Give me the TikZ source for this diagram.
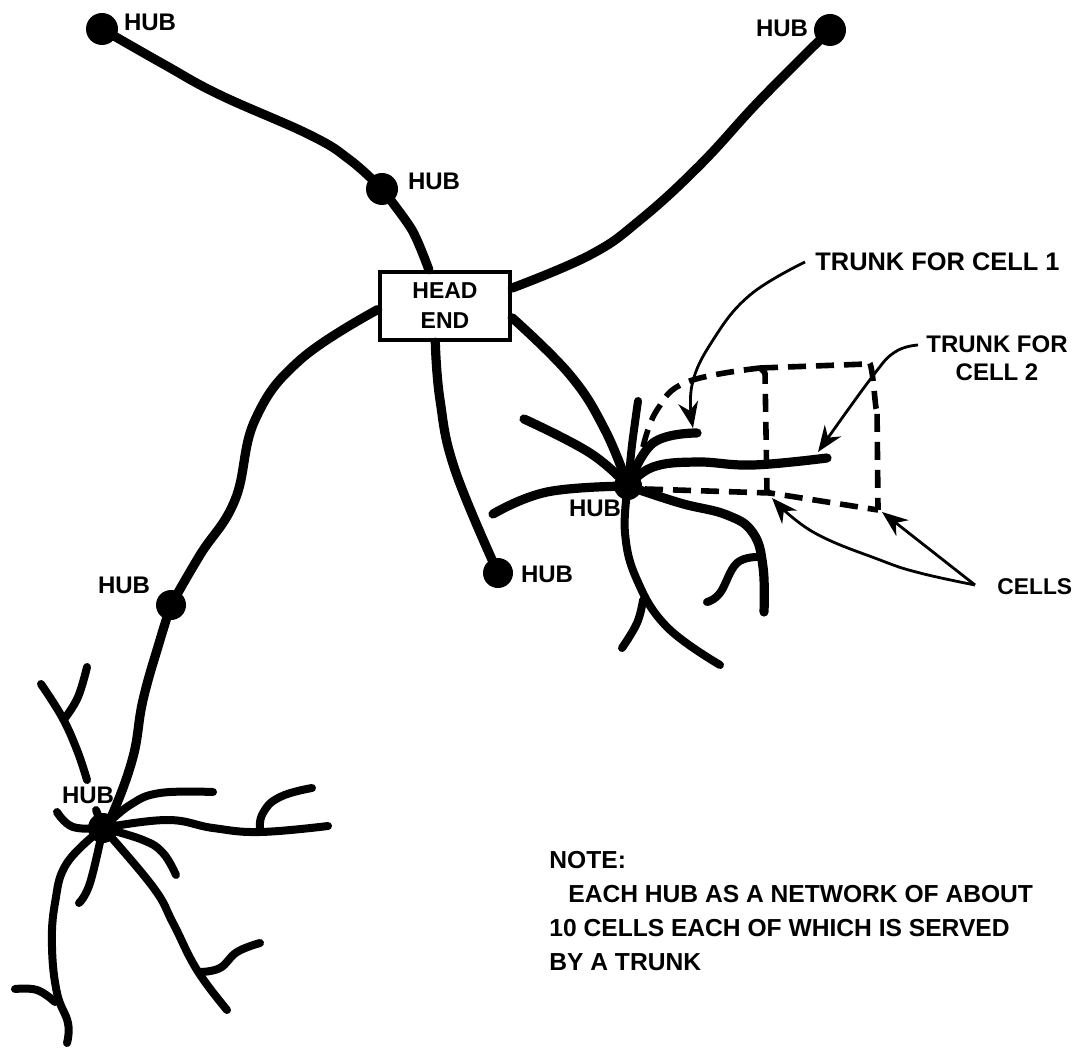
\documentclass[tikz,border=0pt]{standalone}
\usepackage{fontspec}
\setmainfont{Liberation Sans}
\usetikzlibrary{arrows.meta}
\tikzset{
    cable/.style={line width=4.6pt, line cap=round, line join=round},
    branch/.style={line width=4pt, line cap=round, line join=round},
    cell/.style={line width=2.8pt, dash pattern=on 9pt off 5pt, line join=round},
    pointer/.style={line width=1.4pt, -{Stealth[length=13pt,width=10pt]}},
    hubdot/.style={circle, fill=black, inner sep=0pt, minimum size=#1},
    tag/.style={font=\bfseries\fontsize{12}{14}\selectfont, inner sep=0pt}
}
\begin{document}
\begin{tikzpicture}[x=0.5pt, y=-0.5pt]
        \useasboundingbox (0,0) rectangle (1079,1047);

        % Hubs
        \foreach \name/\pos/\size in {hubA/{102,29}/16pt, hubB/{382,189}/16pt, hubC/{830,30}/16pt, hubD/{171,605}/15pt, hubE/{498,573}/15pt, hubF/{628,486}/14pt, hubG/{103,828}/15pt} {
            \node[hubdot=\size] (\name) at (\pos) {};
        }
        \node[draw, line width=2.2pt, fill=white, minimum width=65pt, minimum height=34pt, align=center, font=\bfseries\fontsize{11.5}{15}\selectfont, inner sep=0pt] (headend) at (445,306) {HEAD\\END};

        % Main cables
        \draw[cable] plot[smooth, tension=0.7] coordinates {(hubA.center) (165,65) (220,95) (310,135) (350,160) (hubB.center)};
        \draw[cable] plot[smooth] coordinates {(hubB.center) (412,230) (headend.114)};
        \draw[cable] plot[smooth, tension=0.7] coordinates {(hubC.center) (760,100) (700,165) (640,220) (590,255) (headend.15)};
        \draw[cable] plot[smooth, tension=0.7] coordinates {(headend.183) (300,360) (255,420) (235,500) (200,555) (hubD.center)};
        \draw[cable] plot[smooth, tension=0.7] coordinates {(hubD.center) (160,640) (143,700) (133,757) (113,813) (hubG.center)};
        \draw[cable] plot[smooth, tension=0.7] coordinates {(headend.255) (440,400) (455,470) (hubE.center)};
        \draw[cable] plot[smooth, tension=0.7] coordinates {(headend.-10) (570,375) (605,430) (hubF.center)};

        % Right network
        \draw[cable] plot[smooth, tension=0.7] coordinates {(524,419) (590,453) (hubF.center)};
        \draw[cable] plot[smooth, tension=0.7] coordinates {(493,514) (547,492) (hubF.center)};
        \draw[branch] plot[smooth] coordinates {(638,401) (632,445) (hubF.center)};
        \draw[cable] plot[smooth, tension=0.7] coordinates {(697,433) (653,443) (hubF.center)};
        \draw[cable] plot[smooth, tension=0.7] coordinates {(827,458) (753,465) (697,462) (653,467) (hubF.center)};
        \draw[cable] plot[smooth, tension=0.7] coordinates {(hubF.center) (680,503) (727,515) (753,533) (763,567) (764,612)};
        \draw[branch] plot[smooth, tension=0.7] coordinates {(707,602) (720,593) (737,563) (760,557)};
        \draw[branch] plot[smooth, tension=0.7] coordinates {(hubF.center) (625,533) (637,580) (667,627) (720,665)};
        \draw[branch] plot[smooth, tension=0.7] coordinates {(622,648) (637,623) (643,600)};

        % Cells
        \draw[cell] plot[smooth, tension=0.7] coordinates {(643,447) (657,410) (687,382) (760,368)};
        \draw[cell] (760,368) -- (867,364) to[out=70,in=-95] (877,407) -- (878,510);
        \draw[cell] (760,368) -- (765,373) -- (767,493);
        \draw[cell] (645,489) -- (770,493) -- (878,510);

        % Left network
        \draw[branch] plot[smooth, tension=0.7] coordinates {(41,684) (62,717) (77,750) (87,780)};
        \draw[branch] plot[smooth, tension=0.7] coordinates {(87,667) (78,697) (65,718)};
        \draw[branch] plot[smooth, tension=0.7] coordinates {(57,812) (73,827) (hubG.center)};
        \draw[branch] (96,810) -- (hubG.center);
        \draw[branch] plot[smooth, tension=0.7] coordinates {(213,792) (160,793) (130,805) (hubG.center)};
        \draw[branch] plot[smooth, tension=0.7] coordinates {(328,826) (260,832) (213,828) (167,820) (hubG.center)};
        \draw[branch] plot[smooth, tension=0.8] coordinates {(312,788) (280,797) (263,813) (260,830)};
        \draw[branch] plot[smooth, tension=0.7] coordinates {(176,875) (163,853) (143,840) (hubG.center)};
        \draw[branch] plot[smooth, tension=0.7] coordinates {(hubG.center) (153,887) (173,923) (197,970) (227,1010)};
        \draw[branch] plot[smooth, tension=0.7] coordinates {(260,943) (237,952) (220,968) (200,972)};
        \draw[branch] plot[smooth, tension=0.7] coordinates {(hubG.center) (90,883) (79,903)};
        \draw[branch] plot[smooth, tension=0.7] coordinates {(hubG.center) (67,863) (55,903) (52,947) (57,993) (68,1023) (67,1043)};
        \draw[branch] plot[smooth, tension=0.7] coordinates {(15,989) (37,990) (55,1002)};

        % Labels
        \node[tag] (labelA) at (150,22) {HUB};
        \node[tag] (labelB) at (434,181) {HUB};
        \node[tag] (labelC) at (782,28) {HUB};
        \node[tag] (labelD) at (124,585) {HUB};
        \node[tag] (labelE) at (547,574) {HUB};
        \node[tag] (labelF) at (595,508) {HUB};
        \node[tag] (labelG) at (88,795) {HUB};
        \node[tag, anchor=west, font=\bfseries\fontsize{12.7}{14}\selectfont] (trunkone) at (815,262) {TRUNK FOR CELL 1};
        \node[tag, align=center] (trunktwo) at (997,358) {TRUNK FOR\\CELL 2};
        \node[tag, anchor=west, font=\bfseries\fontsize{11.4}{14}\selectfont] (cells) at (997,587) {CELLS};
        \node[tag, anchor=north west, align=left, font=\bfseries\fontsize{12.3}{17}\selectfont] (note) at (549,851) {NOTE:\\\hspace*{9.5pt}EACH HUB AS A NETWORK OF ABOUT\\10 CELLS EACH OF WHICH IS SERVED\\BY A TRUNK};

        % Pointers
        \coordinate (trunkonefoot) at (805,262);
        \coordinate (trunktwofoot) at (918,345);
        \coordinate (cellsfoot) at (975,585);
        \draw[pointer] plot[smooth, tension=0.7] coordinates {(trunkonefoot) (750,295) (713,340) (692,385) (693,428)};
        \draw[pointer] plot[smooth, tension=0.7] coordinates {(trunktwofoot) (895,352) (872,377) (818,452)};
        \draw[pointer] plot[smooth, tension=0.7] coordinates {(cellsfoot) (920,573) (880,560) (813,532) (772,498)};
        \draw[pointer] (cellsfoot) -- (882,512);
    \end{tikzpicture}
\end{document}
